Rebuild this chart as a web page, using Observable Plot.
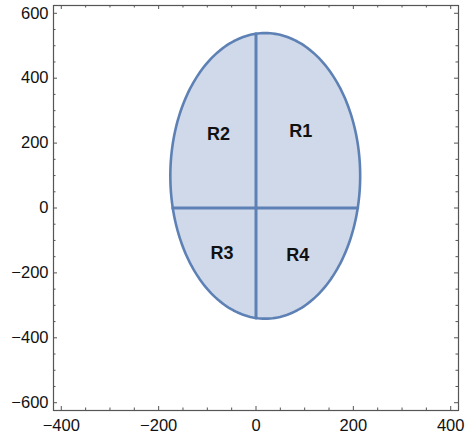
<!DOCTYPE html>
<html>
<head>
<meta charset="utf-8">
<script src="https://cdn.jsdelivr.net/npm/d3@7"></script>
<script src="https://cdn.jsdelivr.net/npm/@observablehq/plot@0.6"></script>
<style>
  html, body { margin: 0; padding: 0; background: #fff; }
  svg { display: block; }
</style>
</head>
<body>
<div id="chart"></div>
<script>
// Ellipse region (center and semi-axes)
const ellipseCenter = [19, 99];
const ellipseRadii = [195, 440];
const regionLabels = ["R1", "R2", "R3", "R4"];
const labelX = [92, -77, -70, 86];
const labelY = [236, 228, -139, -146];
const xMajorTicks = [-400, -200, 0, 200, 400];
const yMajorTicks = [-600, -400, -200, 0, 200, 400, 600];
const xMinorTicks = [-350, -300, -250, -150, -100, -50, 50, 100, 150, 250, 300, 350];
const yMinorTicks = [-550, -500, -450, -350, -300, -250, -150, -100, -50, 50, 100, 150, 250, 300, 350, 450, 500, 550];

const W = 465, H = 439;
const mL = 53, mR = 7, mT = 5, mB = 29;
const innerW = W - mL - mR, innerH = H - mT - mB;

const N = 240;
const outline = d3.range(N + 1).map(i => {
  const t = (i / N) * 2 * Math.PI;
  return {x: ellipseCenter[0] + ellipseRadii[0] * Math.cos(t), y: ellipseCenter[1] + ellipseRadii[1] * Math.sin(t)};
});
// internal dividing lines: x = 0 and y = 0, clipped to the ellipse
const [cx, cy] = ellipseCenter, [rx, ry] = ellipseRadii;
const dyAt0 = ry * Math.sqrt(1 - (cx / rx) ** 2);
const dxAt0 = rx * Math.sqrt(1 - (cy / ry) ** 2);
const vLine = [{x: 0, y: cy - dyAt0}, {x: 0, y: cy + dyAt0}];
const hLine = [{x: cx - dxAt0, y: 0}, {x: cx + dxAt0, y: 0}];

const labels = regionLabels.map((t, i) => ({t, x: labelX[i], y: labelY[i]}));
const fmt = d => (d < 0 ? "\u2212" + Math.abs(d) : String(d));
const frameColor = "#555";
const MAJ = 4, MIN = 2.5;

const chart = Plot.plot({
  width: W, height: H,
  marginLeft: mL, marginRight: mR, marginTop: mT, marginBottom: mB,
  x: {domain: [-416, 416]},
  y: {domain: [-624, 624]},
  style: {fontFamily: "'Liberation Sans', Arial, sans-serif", background: "#fff"},
  marks: [
    Plot.line(outline, {x: "x", y: "y", fill: "#cfd9e9", stroke: "none"}),
    Plot.line(vLine, {x: "x", y: "y", stroke: "#5E81B5", strokeWidth: 3}),
    Plot.line(hLine, {x: "x", y: "y", stroke: "#5E81B5", strokeWidth: 3}),
    Plot.line(outline, {x: "x", y: "y", stroke: "#5E81B5", strokeWidth: 2.6}),
    Plot.text(labels, {x: "x", y: "y", text: "t", fontWeight: "bold", fontSize: 18, fill: "#111"}),
    // inward ticks on all four sides
    Plot.tickX(xMajorTicks, {x: d => d, insetTop: innerH - MAJ, stroke: frameColor}),
    Plot.tickX(xMinorTicks, {x: d => d, insetTop: innerH - MIN, stroke: frameColor}),
    Plot.tickX(xMajorTicks, {x: d => d, insetBottom: innerH - MAJ, stroke: frameColor}),
    Plot.tickX(xMinorTicks, {x: d => d, insetBottom: innerH - MIN, stroke: frameColor}),
    Plot.tickY(yMajorTicks, {y: d => d, insetRight: innerW - MAJ, stroke: frameColor}),
    Plot.tickY(yMinorTicks, {y: d => d, insetRight: innerW - MIN, stroke: frameColor}),
    Plot.tickY(yMajorTicks, {y: d => d, insetLeft: innerW - MAJ, stroke: frameColor}),
    Plot.tickY(yMinorTicks, {y: d => d, insetLeft: innerW - MIN, stroke: frameColor}),
    Plot.axisX(xMajorTicks, {anchor: "bottom", tickSize: 0, tickPadding: 9, tickFormat: fmt, fontSize: 16.5, fill: "#111", label: null}),
    Plot.axisY(yMajorTicks, {anchor: "left", tickSize: 0, tickPadding: 5, tickFormat: fmt, fontSize: 16.5, fill: "#111", label: null}),
    Plot.frame({stroke: frameColor, strokeWidth: 1.2})
  ]
});
document.getElementById("chart").appendChild(chart);
</script>
</body>
</html>
